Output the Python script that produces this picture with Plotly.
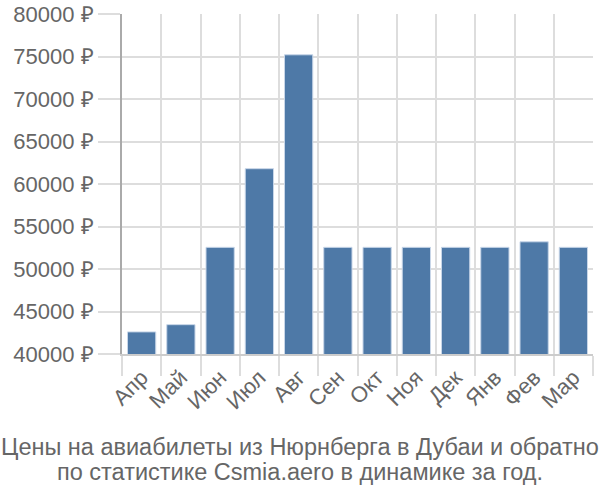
import plotly.graph_objects as go

months = ["Апр", "Май", "Июн", "Июл", "Авг", "Сен", "Окт", "Ноя", "Дек", "Янв", "Фев", "Мар"]
prices = [42600, 43450, 52550, 61800, 75200, 52550, 52550, 52550, 52550, 52550, 53200, 52550]
y_ticks = [40000, 45000, 50000, 55000, 60000, 65000, 70000, 75000, 80000]
y_tick_labels = [f"{v} ₽" for v in y_ticks]
title_lines = ["Цены на авиабилеты из Нюрнберга в Дубаи и обратно",
               "по статистике Csmia.aero в динамике за год."]

fig = go.Figure(go.Bar(
    x=months, y=prices,
    marker=dict(color="#4e79a7", line=dict(color="#c8d6e8", width=1)),
))

title_y = [-0.2735, -0.347]
annotations = [
    dict(text=line, xref="paper", yref="paper",
         x=(300 - 122) / 471, xanchor="center", y=yy, yanchor="middle",
         showarrow=False, font=dict(size=23.5, color="#666666"))
    for line, yy in zip(title_lines, title_y)
]

fig.update_layout(
    width=600, height=500,
    margin=dict(l=122, r=7, t=14, b=146),
    paper_bgcolor="white", plot_bgcolor="white",
    bargap=0.28,
    showlegend=False,
    font=dict(family="Liberation Sans, Arial, sans-serif", color="#666666"),
    annotations=annotations,
)
fig.update_xaxes(
    automargin=False,
    tickson="boundaries", showgrid=True, gridcolor="#dddddd", gridwidth=1.5,
    ticks="outside", ticklen=20, tickcolor="#dddddd", tickwidth=1.5,
    tickangle=-45, tickfont=dict(size=22, color="#666666"),
    showline=True, linecolor="#cccccc", linewidth=2,
)
fig.update_yaxes(
    automargin=False,
    range=[40000, 80000], tickvals=y_ticks, ticktext=y_tick_labels,
    showgrid=True, gridcolor="#dddddd", gridwidth=1.5,
    ticks="outside", ticklen=22, tickcolor="#dddddd", tickwidth=1.5,
    tickfont=dict(size=22, color="#666666"),
    showline=True, linecolor="#aaaaaa", linewidth=2, zeroline=False,
)

fig.write_html("out.html", config={"displayModeBar": False},
               post_script="document.body.style.margin='0';")
